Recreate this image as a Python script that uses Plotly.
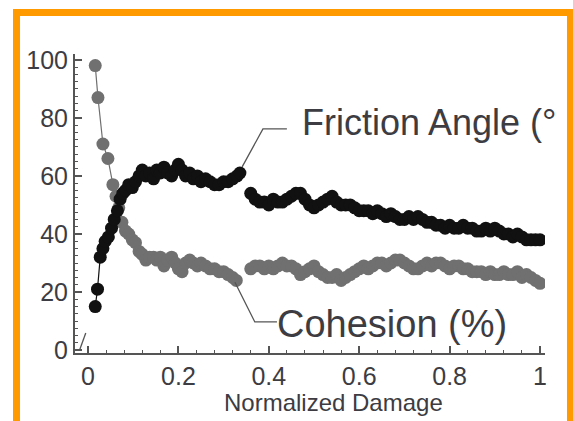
import plotly.graph_objects as go

# ---------------- data ----------------
fa_x = [0.016, 0.021, 0.027, 0.033, 0.038, 0.045, 0.052, 0.058, 0.065, 0.071,
        0.077, 0.083, 0.090, 0.098, 0.105, 0.113, 0.120, 0.128, 0.136, 0.145,
        0.152, 0.160, 0.168, 0.176, 0.185, 0.193, 0.200, 0.208, 0.216, 0.225,
        0.233, 0.242, 0.250, 0.260, 0.270, 0.280, 0.290, 0.300, 0.310, 0.320,
        0.330, 0.336, None,
        0.36, 0.37, 0.38, 0.39, 0.40, 0.41, 0.42, 0.43, 0.44, 0.45,
        0.46, 0.47, 0.48, 0.49, 0.50, 0.51, 0.52, 0.53, 0.54, 0.55,
        0.56, 0.57, 0.58, 0.59, 0.60, 0.61, 0.62, 0.63, 0.64, 0.65,
        0.66, 0.67, 0.68, 0.69, 0.70, 0.71, 0.72, 0.73, 0.74, 0.75,
        0.76, 0.77, 0.78, 0.79, 0.80, 0.81, 0.82, 0.83, 0.84, 0.85,
        0.86, 0.87, 0.88, 0.89, 0.90, 0.91, 0.92, 0.93, 0.94, 0.95,
        0.96, 0.97, 0.98, 0.99, 1.00]
fa_y = [15, 21, 32, 35, 37.5, 39, 42, 45, 48, 52,
        54, 55, 57, 56, 58, 60, 62, 60, 61, 59,
        62, 61, 63, 61, 60, 62, 64, 62, 60, 61,
        59, 60, 58, 59, 58, 57, 57, 58, 58, 59,
        60, 61, None,
        54, 52, 51, 51, 50, 52, 51, 51, 52, 53,
        54, 54, 52, 50, 49, 50, 51, 52, 53, 51,
        50, 50, 50, 49, 48, 48, 48, 47, 48, 47,
        46, 47, 46, 45, 45, 46, 45, 46, 45, 44,
        44, 43, 43, 42, 43, 42, 42, 43, 42, 42,
        41, 41, 42, 41, 42, 41, 40, 40, 39, 40,
        39, 38, 38, 38, 38]

coh_x = [0.016, 0.022, 0.033, 0.044, 0.055, 0.062, 0.068, 0.075, 0.083, 0.090,
         0.098, 0.105, 0.113, 0.120, 0.128, 0.136, 0.145, 0.152, 0.160, 0.168,
         0.176, 0.185, 0.193, 0.200, 0.208, 0.216, 0.225, 0.233, 0.242, 0.250,
         0.260, 0.270, 0.280, 0.290, 0.300, 0.310, 0.320, 0.328, None,
         0.36, 0.37, 0.38, 0.39, 0.40, 0.41, 0.42, 0.43, 0.44, 0.45,
         0.46, 0.47, 0.48, 0.49, 0.50, 0.51, 0.52, 0.53, 0.54, 0.55,
         0.56, 0.57, 0.58, 0.59, 0.60, 0.61, 0.62, 0.63, 0.64, 0.65,
         0.66, 0.67, 0.68, 0.69, 0.70, 0.71, 0.72, 0.73, 0.74, 0.75,
         0.76, 0.77, 0.78, 0.79, 0.80, 0.81, 0.82, 0.83, 0.84, 0.85,
         0.86, 0.87, 0.88, 0.89, 0.90, 0.91, 0.92, 0.93, 0.94, 0.95,
         0.96, 0.97, 0.98, 0.99, 1.00]
coh_y = [98, 87, 71, 66, 57, 53, 49, 44, 41, 40,
         38, 37, 34, 33, 31, 32, 32, 31, 32, 29,
         31, 32, 30, 28, 27, 30, 31, 30, 29, 30,
         29, 28, 28, 27, 27, 26, 25, 24, None,
         28, 29, 29, 28, 29, 28, 29, 30, 29, 29,
         28, 26, 27, 28, 29, 27, 26, 25, 25, 26,
         24, 25, 26, 27, 28, 29, 28, 29, 30, 30,
         29, 30, 31, 31, 30, 29, 28, 28, 29, 30,
         29, 30, 30, 29, 28, 29, 29, 28, 28, 27,
         27, 27, 26, 27, 26, 26, 27, 26, 26, 27,
         25, 26, 25, 24, 23]

x_tickvals = [0, 0.2, 0.4, 0.6, 0.8, 1]
x_ticktext = ["0", "0.2", "0.4", "0.6", "0.8", "1"]
y_tickvals = [0, 20, 40, 60, 80, 100]
y_ticktext = ["0", "20", "40", "60", "80", "100"]

label_friction = "Friction Angle (°"
label_cohesion = "Cohesion (%)"
x_title = "Normalized Damage"

# ---------------- styles ----------------
FONT = "Liberation Sans, Arial, sans-serif"
TXT = "#3c3c42"
AX = "#555555"
ORANGE = "#FF9A00"

fig = go.Figure()
fig.add_trace(go.Scatter(
    x=coh_x, y=coh_y, mode="lines+markers",
    line=dict(color="#6f6f6f", width=1.2),
    marker=dict(color="#707070", size=13),
    connectgaps=False, showlegend=False, hoverinfo="skip"))
fig.add_trace(go.Scatter(
    x=fa_x, y=fa_y, mode="lines+markers",
    line=dict(color="#111111", width=1.2),
    marker=dict(color="#111111", size=13),
    connectgaps=False, showlegend=False, hoverinfo="skip"))

axis_common = dict(
    showline=True, linecolor=AX, linewidth=2,
    ticks="inside", ticklen=7, tickwidth=1.5, tickcolor=AX,
    showgrid=False, zeroline=False,
    tickfont=dict(family=FONT, size=25, color=TXT),
)

fig.update_xaxes(range=[-0.0288, 1.011], tickvals=x_tickvals, ticktext=x_ticktext,
                 minor=dict(ticks="inside", ticklen=3, tickwidth=1, tickcolor=AX, dtick=0.04, tick0=0),
                 ticklabelstandoff=0, **axis_common)
fig.update_yaxes(range=[-1, 102], tickvals=y_tickvals, ticktext=y_ticktext,
                 minor=dict(ticks="inside", ticklen=3, tickwidth=1, tickcolor=AX, dtick=2.5, tick0=0),
                 ticklabelstandoff=0, **axis_common)

# leader lines (annotation callouts)
fig.add_shape(type="path", xref="x", yref="y",
              path="M 0.440 76.2 L 0.387 76.2 L 0.341 63.1",
              line=dict(color="#555555", width=1.3))
fig.add_shape(type="path", xref="x", yref="y",
              path="M 0.418 9.7 L 0.369 9.7 L 0.325 23.4",
              line=dict(color="#555555", width=1.3))
fig.add_shape(type="line", xref="x", yref="y", x0=-0.018, y0=0.3, x1=-0.005, y1=5.9,
              line=dict(color="#555555", width=1.3))

fig.add_annotation(x=0.469, y=78.3, xref="x", yref="y", text=label_friction,
                   showarrow=False, xanchor="left", yanchor="middle",
                   font=dict(family=FONT, size=36, color=TXT))
fig.add_annotation(x=0.414, y=9.0, xref="x", yref="y", text=label_cohesion,
                   showarrow=False, xanchor="left", yanchor="middle",
                   font=dict(family=FONT, size=38, color=TXT))
fig.add_annotation(x=0.544, y=-0.167, xref="x", yref="paper", text=x_title,
                   showarrow=False, xanchor="center", yanchor="middle",
                   font=dict(family=FONT, size=24, color=TXT))

# orange frame (paper coordinates)
for x0, x1, y0, y1 in [(-0.1319, 1.10, 1.127, 1.1505),
                       (-0.1319, -0.117, -0.30, 1.1505),
                       (1.0468, 1.10, -0.30, 1.1505)]:
    fig.add_shape(type="rect", xref="paper", yref="paper", x0=x0, x1=x1, y0=y0, y1=y1,
                  fillcolor=ORANGE, line=dict(width=0), layer="above")

fig.update_layout(
    width=573, height=421,
    margin=dict(l=75, r=28, t=54, b=68),
    paper_bgcolor="white", plot_bgcolor="white",
    showlegend=False,
)

fig.write_html("out.html")
